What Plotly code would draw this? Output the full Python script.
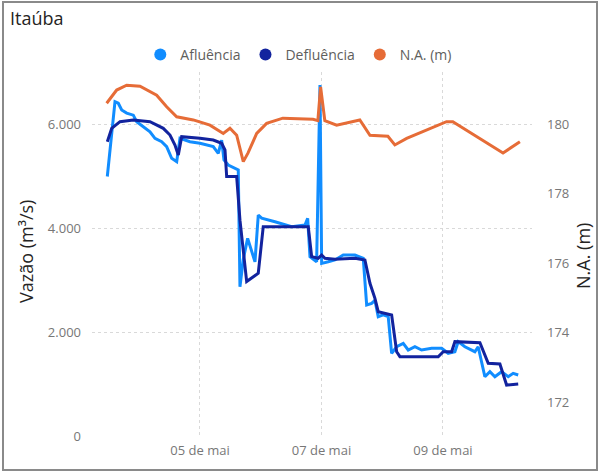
import plotly.graph_objects as go

YEAR = "2024-"

# Afluência (m³/s)
aflu_time = ["05-03 11:23", "05-03 14:25", "05-03 15:43", "05-03 17:04", "05-03 19:02", "05-03 21:39",
             "05-03 22:59", "05-04 01:36", "05-04 04:15", "05-04 06:13", "05-04 08:52", "05-04 10:50",
             "05-04 12:49", "05-04 14:48", "05-04 16:06", "05-04 20:03", "05-05 00:00", "05-05 05:15",
             "05-05 07:14", "05-05 08:34", "05-05 09:29", "05-05 11:11", "05-05 15:08", "05-05 15:48",
             "05-05 17:07", "05-05 18:50", "05-05 20:25", "05-05 21:44", "05-05 23:02", "05-06 00:23",
             "05-06 05:38", "05-06 12:14", "05-06 17:29", "05-06 18:33", "05-06 19:28", "05-06 22:06",
             "05-06 23:25", "05-07 00:05", "05-07 02:41", "05-07 05:20", "05-07 08:37", "05-07 13:14",
             "05-07 16:31", "05-07 17:52", "05-07 19:50", "05-07 21:08", "05-07 22:26", "05-08 00:25",
             "05-08 02:23", "05-08 03:44", "05-08 05:43", "05-08 08:19", "05-08 10:17", "05-08 12:56",
             "05-08 15:35", "05-08 19:32", "05-08 23:29", "05-09 02:05", "05-09 04:44", "05-09 06:02",
             "05-09 08:41", "05-09 12:38", "05-09 13:56", "05-09 16:35", "05-09 18:34", "05-09 20:32",
             "05-09 23:11", "05-10 01:48", "05-10 03:46", "05-10 05:45"]
aflu_vals = [4990, 6430, 6400, 6270, 6210, 6170,
             6045, 5950, 5850, 5725, 5660, 5565,
             5340, 5275, 5725, 5660, 5630, 5565,
             5436, 5690, 5310, 5210, 5115, 2870,
             3400, 3800, 3570, 3350, 4250, 4190,
             4120, 4025, 4058, 4186, 3448, 3352,
             6750, 3320, 3350, 3385, 3480, 3480,
             3417, 2520, 2550, 2610, 2294, 2330,
             2294, 1590, 1717, 1782, 1654, 1717,
             1654, 1686, 1686, 1590, 1621, 1814,
             1717, 1621, 1717, 1140, 1237, 1140,
             1237, 1140, 1205, 1173]

# Defluência (m³/s)
deflu_time = ["05-03 11:23", "05-03 13:07", "05-03 16:24", "05-03 21:39", "05-04 04:15", "05-04 09:30",
              "05-04 12:09", "05-04 14:07", "05-04 15:26", "05-04 16:46", "05-05 00:00", "05-05 05:15",
              "05-05 08:34", "05-05 09:53", "05-05 10:33", "05-05 14:30", "05-05 15:48", "05-05 18:27",
              "05-05 23:02", "05-06 01:00", "05-06 18:47", "05-06 20:08", "05-06 22:44", "05-07 00:05",
              "05-07 01:23", "05-07 05:20", "05-07 13:14", "05-07 17:11", "05-07 19:10", "05-07 21:08",
              "05-07 22:26", "05-08 03:44", "05-08 05:43", "05-08 07:01", "05-08 22:08", "05-09 00:07",
              "05-09 03:26", "05-09 04:44", "05-09 14:37", "05-09 17:54", "05-09 22:31", "05-10 01:10",
              "05-10 05:45"]
deflu_vals = [5660, 5917, 6045, 6077, 6045, 5917,
              5788, 5596, 5404, 5756, 5725, 5692,
              5630, 5500, 4990, 4990, 4150, 2970,
              3130, 4025, 4025, 3450, 3417, 3480,
              3417, 3400, 3417, 3385, 2937, 2647,
              2390, 2327, 1621, 1525, 1525, 1621,
              1621, 1814, 1794, 1398, 1385, 980,
              1000]

# N.A. (m)
na_time = ["05-03 11:07", "05-03 15:05", "05-03 19:02", "05-04 00:18", "05-04 06:53", "05-04 10:50",
           "05-04 14:48", "05-04 21:21", "05-05 03:57", "05-05 09:12", "05-05 11:51", "05-05 14:30",
           "05-05 17:07", "05-05 19:00", "05-05 22:25", "05-06 02:20", "05-06 08:45", "05-06 20:40",
           "05-06 22:35", "05-06 23:40", "05-07 01:20", "05-07 06:00", "05-07 15:10", "05-07 19:10",
           "05-08 02:15", "05-08 05:00", "05-08 09:40", "05-09 01:25", "05-09 03:55", "05-09 23:45",
           "05-10 06:25"]
na_vals = [180.60, 180.98, 181.12, 181.09, 180.83, 180.50,
           180.21, 180.12, 179.97, 179.73, 179.88, 179.68,
           178.92, 179.17, 179.73, 180.02, 180.17, 180.14,
           180.10, 181.07, 180.10, 179.97, 180.12, 179.68,
           179.65, 179.40, 179.59, 180.07, 180.07, 179.17,
           179.49]

x_tickvals = ["2024-05-05", "2024-05-07", "2024-05-09"]
x_ticktext = ["05 de mai", "07 de mai", "09 de mai"]
y_tickvals = [0, 2000, 4000, 6000]
y_ticktext = ["0", "2.000", "4.000", "6.000"]
y2_tickvals = [172, 174, 176, 178, 180]

C_AFL = "#118DFF"
C_DEF = "#12239E"
C_NA = "#E66C37"

FONT = "Open Sans"

fig = go.Figure()
fig.add_trace(go.Scatter(x=[YEAR + t for t in aflu_time], y=aflu_vals, mode="lines",
                         line=dict(color=C_AFL, width=3), name="Afluência", showlegend=False))
fig.add_trace(go.Scatter(x=[YEAR + t for t in deflu_time], y=deflu_vals, mode="lines",
                         line=dict(color=C_DEF, width=3), name="Defluência", showlegend=False))
fig.add_trace(go.Scatter(x=[YEAR + t for t in na_time], y=na_vals, mode="lines", yaxis="y2",
                         line=dict(color=C_NA, width=3), name="N.A. (m)", showlegend=False))

# legend entries (circle markers)
for nm, c in [("Afluência", C_AFL), ("Defluência", C_DEF), ("N.A. (m)", C_NA)]:
    fig.add_trace(go.Scatter(x=[None], y=[None], mode="markers", name=nm,
                             marker=dict(color=c, size=12, symbol="circle")))

W, H = 600, 472
L, R, T, B = 92, 68, 72, 36
pw, ph = W - L - R, H - T - B

def px_x(p):
    return (p - L) / pw

def px_y(p):
    return (H - B - p) / ph

fig.update_layout(
    width=W, height=H,
    margin=dict(l=L, r=R, t=T, b=B),
    paper_bgcolor="white", plot_bgcolor="white",
    font=dict(family=FONT, color="#605E5C"),
    title=dict(text="Itaúba", x=10 / W, xref="container", xanchor="left",
               y=1 - 19 / H, yref="container", yanchor="middle",
               font=dict(size=18, color="#252423", family=FONT)),
    xaxis=dict(type="date", range=["2024-05-03 05:20", "2024-05-10 11:12"],
               tickvals=x_tickvals, ticktext=x_ticktext, showgrid=True,
               gridcolor="#D9D9D9", griddash="dot", gridwidth=1, zeroline=False,
               showline=False, ticks="", tickfont=dict(size=13, color="#777777"),
               ticklabelstandoff=5),
    yaxis=dict(range=[0, 7000], tickvals=y_tickvals, ticktext=y_ticktext,
               showgrid=True, gridcolor="#D9D9D9", griddash="dot", gridwidth=1,
               zeroline=False, showline=False, ticks="",
               tickfont=dict(size=13, color="#777777"), ticklabelstandoff=10),
    yaxis2=dict(range=[171.02, 181.5], tickvals=y2_tickvals, overlaying="y", side="right",
                showgrid=False, zeroline=False, showline=False, ticks="",
                tickfont=dict(size=13, color="#777777"), ticklabelstandoff=14),
    legend=dict(orientation="h", x=0.47, xanchor="center", y=px_y(55), yanchor="middle",
                font=dict(size=14, color="#605E5C"), itemwidth=30,
                bgcolor="rgba(0,0,0,0)", tracegroupgap=0),
    showlegend=True,
    hovermode=False,
    annotations=[
        dict(text="Vazão (m³/s)", x=px_x(26), y=px_y(252), xref="paper", yref="paper",
             textangle=-90, showarrow=False, xanchor="center", yanchor="middle",
             font=dict(size=18, color="#252423", family=FONT)),
        dict(text="N.A. (m)", x=px_x(583), y=px_y(256), xref="paper", yref="paper",
             textangle=-90, showarrow=False, xanchor="center", yanchor="middle",
             font=dict(size=18, color="#252423", family=FONT)),
    ],
    shapes=[
        dict(type="rect", xref="paper", yref="paper",
             x0=px_x(3), x1=px_x(597), y0=px_y(470), y1=px_y(2),
             line=dict(color="#8A8A8A", width=2), fillcolor="rgba(0,0,0,0)", layer="below"),
    ],
)

fig.write_html("out.html", config={"displayModeBar": False},
               post_script="document.body.style.margin='0';")
